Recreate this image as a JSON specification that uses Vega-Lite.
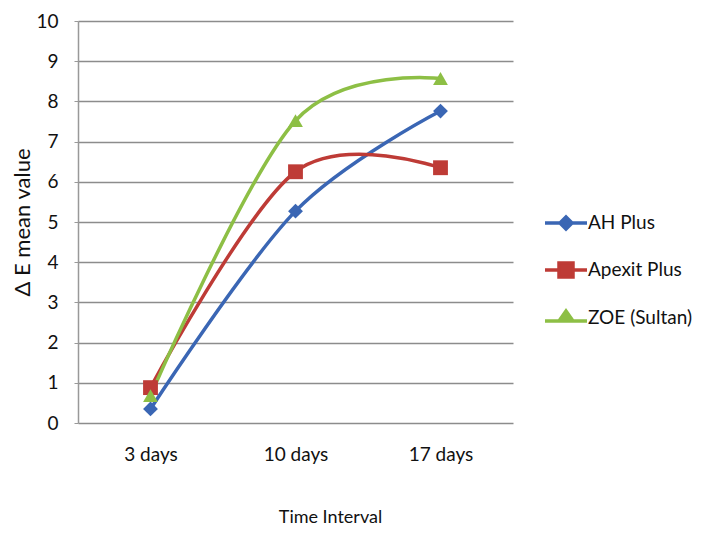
{
  "$schema": "https://vega.github.io/schema/vega-lite/v6.json",
  "autosize": {"type": "none"},
  "width": 435,
  "height": 402,
  "padding": {"left": 78, "top": 21, "right": 193, "bottom": 115},
  "background": "white",
  "config": {
    "font": "Lato",
    "view": {"stroke": null},
    "axis": {"labelFont": "Lato", "titleFont": "Lato", "labelColor": "#111", "titleColor": "#111", "titleFontWeight": "normal"},
    "legend": {
      "labelFont": "Lato", "title": null, "orient": "none", "legendX": 476, "legendY": 190,
      "labelFontSize": 19, "labelColor": "#111", "symbolSize": 400, "rowPadding": 20, "labelOffset": 10,
      "symbolOffset": 0, "symbolOpacity": 1, "symbolStrokeWidth": 3.5
    }
  },
  "data": {
    "values": [
      {"time": "3 days", "series": "AH Plus", "value": 0.35},
      {"time": "10 days", "series": "AH Plus", "value": 5.27},
      {"time": "17 days", "series": "AH Plus", "value": 7.76},
      {"time": "3 days", "series": "Apexit Plus", "value": 0.88},
      {"time": "10 days", "series": "Apexit Plus", "value": 6.25},
      {"time": "17 days", "series": "Apexit Plus", "value": 6.35},
      {"time": "3 days", "series": "ZOE (Sultan)", "value": 0.68},
      {"time": "10 days", "series": "ZOE (Sultan)", "value": 7.52},
      {"time": "17 days", "series": "ZOE (Sultan)", "value": 8.57}
    ]
  },
  "encoding": {
    "x": {
      "field": "time", "type": "ordinal", "sort": ["3 days", "10 days", "17 days"],
      "scale": {"type": "point", "padding": 0.5},
      "axis": {"title": "Time Interval", "labelAngle": 0, "labelFontSize": 19, "labelPadding": 22, "ticks": false, "domain": false, "grid": false,
        "titleFontSize": 18, "titleX": 252, "titleY": 94, "titleBaseline": "middle", "titleAlign": "center"}
    },
    "y": {
      "field": "value", "type": "quantitative",
      "scale": {"domain": [0, 10], "nice": false},
      "axis": {"title": "Δ E mean value", "values": [0,1,2,3,4,5,6,7,8,9,10], "labelOverlap": false, "labelFontSize": 19, "labelPadding": 16,
        "ticks": true, "tickSize": 4, "tickColor": "#999", "domainColor": "#999", "domainWidth": 1.5,
        "grid": true, "gridColor": "#8c8c8c", "gridWidth": 1.5, "gridOpacity": 1,
        "titleFontSize": 22, "titleX": -56, "titleY": 201, "titleAngle": -90, "titleAlign": "center", "titleBaseline": "middle"}
    },
    "color": {
      "field": "series", "type": "nominal",
      "scale": {"domain": ["AH Plus", "Apexit Plus", "ZOE (Sultan)"], "range": ["#3A66B4", "#BE3B36", "#8DBF45"]}
    }
  },
  "layer": [
    {
      "mark": {"type": "line", "interpolate": "cardinal", "strokeWidth": 3.5}
    },
    {
      "transform": [{"filter": "datum.value < -100"}],
      "mark": {"type": "point", "filled": true, "size": 220, "strokeWidth": 3.5},
      "encoding": {
        "stroke": {
          "field": "series", "type": "nominal",
          "scale": {"domain": ["AH Plus", "Apexit Plus", "ZOE (Sultan)"], "range": ["#3A66B4", "#BE3B36", "#8DBF45"]}
        },
        "shape": {
          "field": "series", "type": "nominal",
          "scale": {"domain": ["AH Plus", "Apexit Plus", "ZOE (Sultan)"], "range": [
            "M-2.1,0L-0.6,0L0,-0.6L0.6,0L2.1,0L0.6,0L0,0.6L-0.6,0Z",
            "M-2.1,0L-0.7,0L-0.7,-0.7L0.7,-0.7L0.7,0L2.1,0L0.7,0L0.7,0.7L-0.7,0.7L-0.7,0Z",
            "M-2.1,0.3L-0.7,0.3L0,-0.7L0.7,0.3L2.1,0.3L0.7,0.3Z"
          ]}
        }
      }
    },
    {
      "transform": [{"filter": "datum.series == 'AH Plus'"}],
      "mark": {"type": "point", "filled": true, "opacity": 1, "size": 220, "shape": "diamond", "color": "#3A66B4"},
      "encoding": {"color": {"value": "#3A66B4"}}
    },
    {
      "transform": [{"filter": "datum.series == 'Apexit Plus'"}],
      "mark": {"type": "point", "filled": true, "opacity": 1, "size": 220, "shape": "square", "color": "#BE3B36"},
      "encoding": {"color": {"value": "#BE3B36"}}
    },
    {
      "transform": [{"filter": "datum.series == 'ZOE (Sultan)'"}],
      "mark": {"type": "point", "filled": true, "opacity": 1, "size": 220, "shape": "triangle-up", "color": "#8DBF45"},
      "encoding": {"color": {"value": "#8DBF45"}}
    }
  ]
}
